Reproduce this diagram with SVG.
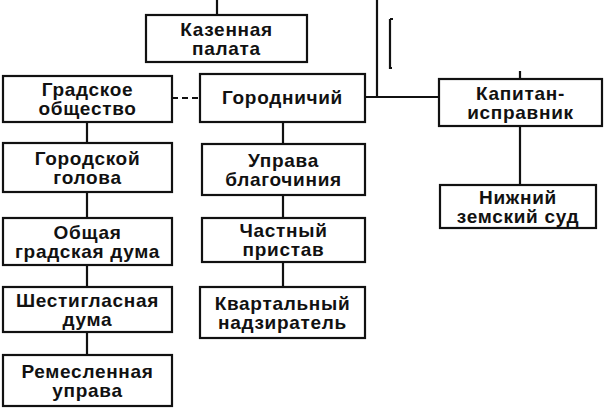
<svg xmlns="http://www.w3.org/2000/svg" width="606" height="408" viewBox="0 0 606 408">
<style>
.box{fill:#fff;stroke:#111;stroke-width:2.2}
.t{font-family:"Liberation Sans",Arial,sans-serif;font-weight:bold;font-size:19px;letter-spacing:0.7px;fill:#111;text-anchor:middle}
.c{stroke:#111;stroke-width:2.2;fill:none}
.d{stroke:#111;stroke-width:2.2;fill:none;stroke-dasharray:6 4}
</style>
<rect width="606" height="408" fill="#fff"/>
<g id="connectors">
<path class="c" d="M217 0V15"/>
<path class="c" d="M377 0V97H365M377 97H439"/>
<path class="c" d="M390 19H393M390 19V68H392"/>
<path class="c" d="M520 71V79M520 126V185"/>
<path class="d" d="M172 98H200"/>
<path class="c" d="M87 122V143M87 192V218M87 265V287M87 332V355"/>
<path class="c" d="M283 122V144M283 195V218M283 262V287"/>
</g>
<g id="kazennaya">
<rect class="box" x="146" y="15" width="161" height="47"/>
<text class="t" x="226.5" y="36">Казенная</text>
<text class="t" x="226.5" y="55">палата</text>
</g>
<g id="gradskoe">
<rect class="box" x="3" y="76" width="169" height="46"/>
<text class="t" x="87.5" y="96">Градское</text>
<text class="t" x="87.5" y="115">общество</text>
</g>
<g id="gorodnichiy">
<rect class="box" x="200" y="74" width="165" height="48"/>
<text class="t" x="282.5" y="104">Городничий</text>
</g>
<g id="kapitan">
<rect class="box" x="439" y="79" width="163" height="47"/>
<text class="t" x="520.5" y="99.5">Капитан-</text>
<text class="t" x="520.5" y="118.5">исправник</text>
</g>
<g id="nizhniy">
<rect class="box" x="440" y="185" width="156" height="43"/>
<text class="t" x="518" y="203.5">Нижний</text>
<text class="t" x="518" y="222.5">земский суд</text>
</g>
<g id="golova">
<rect class="box" x="3" y="143" width="169" height="49"/>
<text class="t" x="87.5" y="164.5">Городской</text>
<text class="t" x="87.5" y="183.5">голова</text>
</g>
<g id="obshaya">
<rect class="box" x="3" y="218" width="169" height="47"/>
<text class="t" x="87.5" y="238.5">Общая</text>
<text class="t" x="87.5" y="257.5">градская дума</text>
</g>
<g id="shestiglasnaya">
<rect class="box" x="3" y="287" width="169" height="45"/>
<text class="t" x="87.5" y="306.5">Шестигласная</text>
<text class="t" x="87.5" y="325.5">дума</text>
</g>
<g id="remeslennaya">
<rect class="box" x="3" y="355" width="169" height="51"/>
<text class="t" x="87.5" y="377.5">Ремесленная</text>
<text class="t" x="87.5" y="396.5">управа</text>
</g>
<g id="uprava">
<rect class="box" x="202" y="144" width="163" height="51"/>
<text class="t" x="283.5" y="166.5">Управа</text>
<text class="t" x="283.5" y="185.5">благочиния</text>
</g>
<g id="chastny">
<rect class="box" x="202" y="218" width="163" height="44"/>
<text class="t" x="283.5" y="237">Частный</text>
<text class="t" x="283.5" y="256">пристав</text>
</g>
<g id="kvartalny">
<rect class="box" x="200" y="287" width="165" height="51"/>
<text class="t" x="282.5" y="309.5">Квартальный</text>
<text class="t" x="282.5" y="328.5">надзиратель</text>
</g>
</svg>
